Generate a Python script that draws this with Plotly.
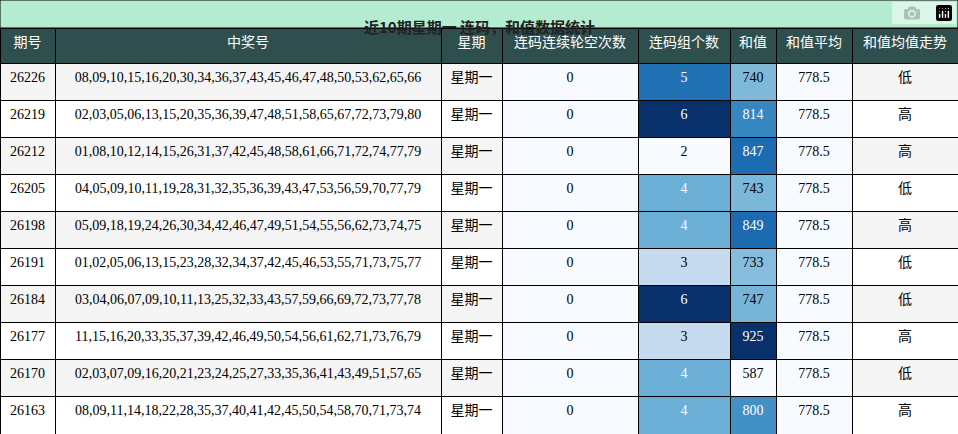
import plotly.graph_objects as go
import plotly.express as px
from plotly.colors import sample_colorscale

issues = ["26226", "26219", "26212", "26205", "26198", "26191", "26184", "26177", "26170", "26163"]
numbers = [
    "08,09,10,15,16,20,30,34,36,37,43,45,46,47,48,50,53,62,65,66",
    "02,03,05,06,13,15,20,35,36,39,47,48,51,58,65,67,72,73,79,80",
    "01,08,10,12,14,15,26,31,37,42,45,48,58,61,66,71,72,74,77,79",
    "04,05,09,10,11,19,28,31,32,35,36,39,43,47,53,56,59,70,77,79",
    "05,09,18,19,24,26,30,34,42,46,47,49,51,54,55,56,62,73,74,75",
    "01,02,05,06,13,15,23,28,32,34,37,42,45,46,53,55,71,73,75,77",
    "03,04,06,07,09,10,11,13,25,32,33,43,57,59,66,69,72,73,77,78",
    "11,15,16,20,33,35,37,39,42,46,49,50,54,56,61,62,71,73,76,79",
    "02,03,07,09,16,20,21,23,24,25,27,33,35,36,41,43,49,51,57,65",
    "08,09,11,14,18,22,28,35,37,40,41,42,45,50,54,58,70,71,73,74",
]
weekday = ["星期一"] * 10
gap_count = [0] * 10
group_count = [5, 6, 2, 4, 4, 3, 6, 3, 4, 4]
sum_value = [740, 814, 847, 743, 849, 733, 747, 925, 587, 800]
sum_avg = [778.5] * 10
trend = ["低", "高", "高", "低", "高", "低", "低", "高", "低", "高"]

headers = ["期号", "中奖号", "星期", "连码连续轮空次数", "连码组个数", "和值", "和值平均", "和值均值走势"]
title = "近10期星期一 连码，和值数据统计"

blues = px.colors.sequential.Blues


def heat(vals):
    lo, hi = min(vals), max(vals)
    norm = [0 if hi == lo else (v - lo) / (hi - lo) for v in vals]
    fills = sample_colorscale(blues, norm)
    fonts = ["white" if n >= 0.5 else "black" for n in norm]
    return fills, fonts


stripe = ["#f5f5f5" if i % 2 == 0 else "white" for i in range(10)]
gap_fill, gap_font = heat(gap_count)
grp_fill, grp_font = heat(group_count)
sum_fill, sum_font = heat(sum_value)
avg_fill, avg_font = heat(sum_avg)
black = ["black"] * 10

fig = go.Figure(go.Table(
    columnwidth=[55, 386, 61, 136, 92, 46, 76, 106],
    header=dict(
        values=headers,
        fill_color="#2f4f4f",
        line=dict(color="black", width=1),
        font=dict(color="white", size=14, family="Noto Sans CJK SC"),
        align="center",
        height=35,
    ),
    cells=dict(
        values=[issues, numbers, weekday, gap_count, group_count, sum_value,
                [f"{v:.1f}" for v in sum_avg], trend],
        fill_color=[stripe, stripe, stripe, gap_fill, grp_fill, sum_fill, avg_fill, stripe],
        font=dict(color=[black, black, black, gap_font, grp_font, sum_font, avg_font, black],
                  size=14, family="Liberation Serif, Noto Sans CJK SC"),
        line=dict(color="black", width=1),
        align="center",
        height=37.1,
    ),
    domain=dict(x=[0, 1], y=[0, 1]),
))

fig.add_shape(type="rect", xref="paper", yref="paper", x0=0, x1=1, y0=1, y1=1 + 28 / 406,
              fillcolor="#b3ecd0", line=dict(color="black", width=1))
fig.add_annotation(text=f"<b>{title}</b>", xref="paper", yref="paper", x=0.5, y=1 + 14 / 406,
                   showarrow=False, font=dict(size=15, color="#222", family="Noto Sans CJK SC"))

fig.update_layout(width=958, height=434, margin=dict(l=0, r=0, t=28, b=0),
                  paper_bgcolor="white")
fig.write_html("out.html", post_script="document.body.style.margin='0';")
